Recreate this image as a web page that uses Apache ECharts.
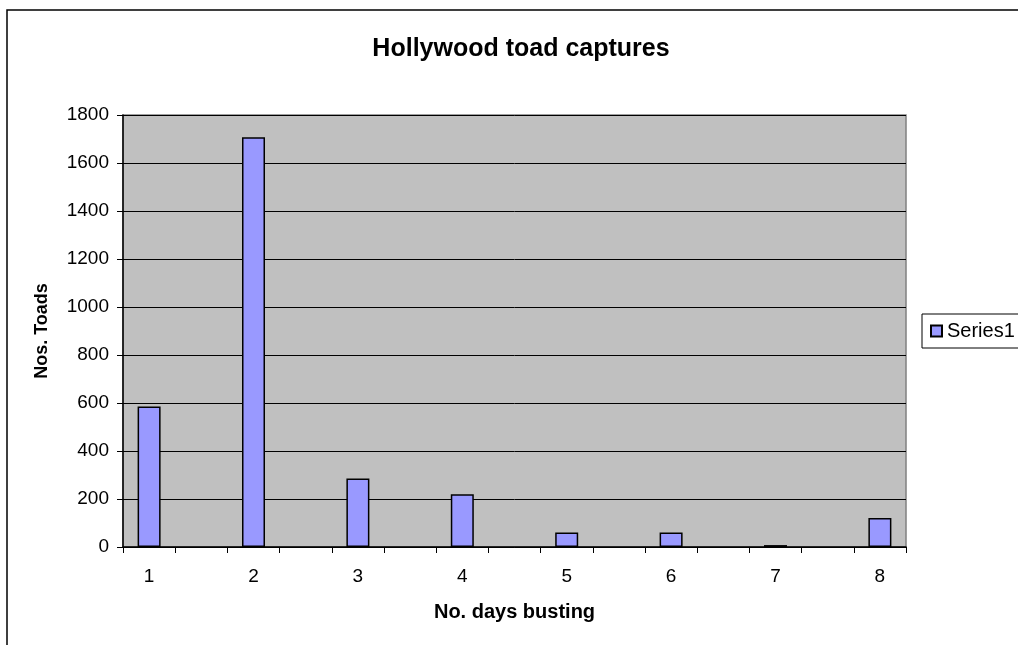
<!DOCTYPE html>
<html>
<head>
<meta charset="utf-8">
<script src="https://cdn.jsdelivr.net/npm/echarts@6/dist/echarts.min.js"></script>
<style>
  html, body { margin: 0; padding: 0; background: #fff; }
  #chart { width: 1018px; height: 645px; }
</style>
</head>
<body>
<div id="chart"></div>
<script>
// days shown on the x axis (each is followed by an empty gap category)
const days = ['1', '2', '3', '4', '5', '6', '7', '8']
// toads captured per day
const captures = [585, 1707, 285, 220, 60, 60, 8, 121]
const yTicks = { min: 0, max: 1800, step: 200 }

// build the category axis: day, gap, day, gap ... day
const categories = []
const values = []
days.forEach((d, i) => {
  categories.push(d)
  values.push(captures[i])
  if (i < days.length - 1) {
    categories.push('')
    values.push('-')
  }
})

const font = 'Liberation Sans, Arial, sans-serif'
const chart = echarts.init(document.getElementById('chart'))

chart.setOption({
  animation: false,
  title: {
    text: 'Hollywood toad captures',
    left: 516,
    top: 32,
    textAlign: 'center',
    textStyle: { fontFamily: font, fontSize: 25, fontWeight: 'bold', color: '#000' }
  },
  legend: {
    data: ['Series1'],
    left: 922,
    top: 314,
    orient: 'vertical',
    itemWidth: 11,
    itemHeight: 11,
    itemGap: 5,
    padding: [7, 40, 7, 8],
    borderColor: '#000',
    borderWidth: 1,
    backgroundColor: '#fff',
    icon: 'rect',
    textStyle: { fontFamily: font, fontSize: 20, color: '#000' }
  },
  grid: {
    left: 123,
    top: 115,
    right: 112,
    bottom: 98,
    show: true,
    backgroundColor: '#c0c0c0',
    borderColor: '#808080',
    borderWidth: 1.5
  },
  xAxis: {
    type: 'category',
    data: categories,
    name: 'No. days busting',
    nameLocation: 'middle',
    nameGap: 55,
    nameTextStyle: { fontFamily: font, fontSize: 20, fontWeight: 'bold', color: '#000' },
    axisLine: { lineStyle: { color: '#000', width: 1.5 } },
    axisTick: { show: true, interval: 0, length: 6, lineStyle: { color: '#000' } },
    axisLabel: { interval: 1, margin: 20, fontFamily: font, fontSize: 19, color: '#000' }
  },
  yAxis: {
    type: 'value',
    min: yTicks.min,
    max: yTicks.max,
    interval: yTicks.step,
    name: 'Nos. Toads',
    nameLocation: 'middle',
    nameGap: 72,
    nameTextStyle: { fontFamily: font, fontSize: 18, fontWeight: 'bold', color: '#000' },
    axisLine: { show: true, lineStyle: { color: '#000', width: 1.5 } },
    axisTick: { show: true, length: 6, lineStyle: { color: '#000' } },
    axisLabel: {
      margin: 14,
      fontFamily: font,
      fontSize: 19,
      color: '#000',
      formatter: (v) => String(v)
    },
    splitLine: { lineStyle: { color: '#000', width: 1 } }
  },
  series: [
    {
      name: 'Series1',
      type: 'bar',
      data: values,
      barWidth: 23,
      itemStyle: { color: '#9999ff', borderColor: '#000', borderWidth: 1.5 }
    }
  ],
  graphic: [
    {
      type: 'rect',
      shape: { x: 7, y: 10, width: 1100, height: 700 },
      style: { fill: 'none', stroke: '#000', lineWidth: 1.5 },
      silent: true
    }
  ]
})
</script>
</body>
</html>
